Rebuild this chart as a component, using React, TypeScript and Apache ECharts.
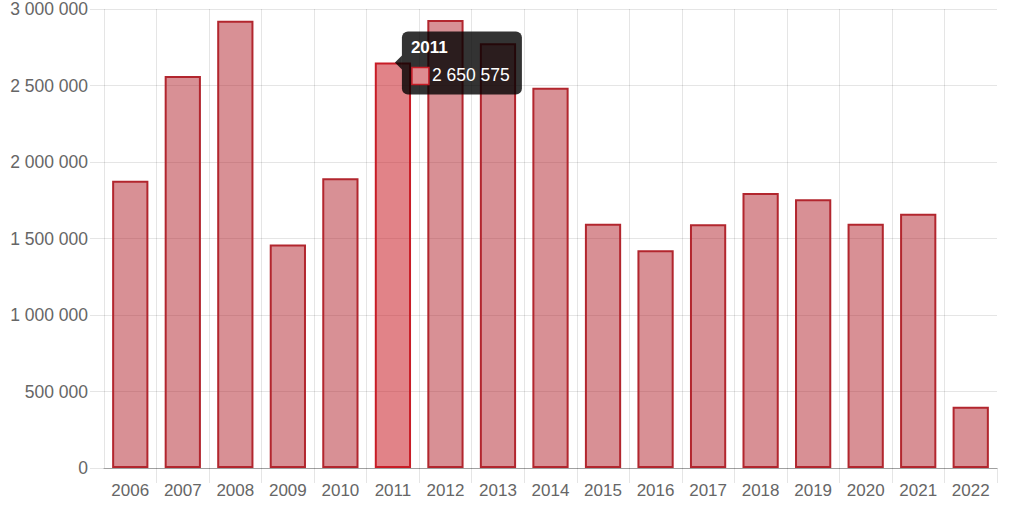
import React, { useEffect, useRef } from "react";
import * as echarts from "echarts";

const years = ["2006", "2007", "2008", "2009", "2010", "2011", "2012", "2013", "2014", "2015", "2016", "2017", "2018", "2019", "2020", "2021", "2022"];
const values = [1878000, 2562000, 2923000, 1460000, 1893000, 2650575, 2928000, 2776000, 2486000, 1597000, 1423000, 1593000, 1797000, 1756000, 1597000, 1662000, 400000];
const yTicks = { min: 0, max: 3000000, interval: 500000 };
const hoveredIndex = 5;

const fmt = (v: number) => String(v).replace(/\B(?=(\d{3})+(?!\d))/g, " ");

const FONT = "'Liberation Sans', Arial, Helvetica, sans-serif";

export default function App() {
  const ref = useRef<HTMLDivElement>(null);
  useEffect(() => {
    document.body.style.margin = "0";
    const chart = echarts.init(ref.current!, undefined, { renderer: "svg" });
    const normal = { color: "rgba(178,34,44,0.5)", borderColor: "rgb(178,38,46)", borderWidth: 2 };
    const hover = { color: "rgba(200,30,38,0.55)", borderColor: "rgb(200,28,38)", borderWidth: 2 };
    chart.setOption({
      animation: false,
      textStyle: { fontFamily: FONT },
      grid: { left: 104, right: 23, top: 9, bottom: 42 },
      xAxis: {
        type: "category",
        data: years,
        boundaryGap: true,
        axisLine: { show: true, lineStyle: { color: "rgba(0,0,0,0.3)", width: 1 } },
        axisTick: { show: true, length: 15, interval: (i: number) => i !== 0, lineStyle: { color: "rgba(0,0,0,0.1)" } },
        axisLabel: { color: "#666", fontSize: 17, margin: 14, fontFamily: FONT },
        splitLine: { show: true, showMinLine: true, showMaxLine: false, lineStyle: { color: "rgba(0,0,0,0.1)" } },
      },
      yAxis: {
        type: "value",
        min: yTicks.min,
        max: yTicks.max,
        interval: yTicks.interval,
        axisLine: { show: false },
        axisTick: { show: true, length: 14, lineStyle: { color: "rgba(0,0,0,0.1)" } },
        axisLabel: { color: "#666", fontSize: 17.5, margin: 16, fontFamily: FONT, formatter: (v: number) => fmt(v) },
        splitLine: { show: true, lineStyle: { color: "rgba(0,0,0,0.1)" } },
      },
      series: [
        {
          type: "bar",
          barCategoryGap: "31%",
          silent: true,
          data: values.map((v, i) => ({ value: v, itemStyle: i === hoveredIndex ? hover : normal })),
          itemStyle: normal,
        },
      ],
    });
    const tip = chart.convertToPixel({ gridIndex: 0 }, [years[hoveredIndex], values[hoveredIndex]]) as number[];
    const Z = 100;
    chart.setOption({
      graphic: [
        {
          type: "group",
          x: tip[0] + 2,
          y: tip[1],
          z: Z,
          children: [
            { type: "polygon", z: Z, shape: { points: [[0, 0], [7, -7], [7, 7]] }, style: { fill: "rgba(0,0,0,0.8)" } },
            { type: "rect", z: Z, shape: { x: 7, y: -31, width: 120, height: 63, r: 6 }, style: { fill: "rgba(0,0,0,0.8)" } },
            { type: "text", z: Z + 1, x: 16, y: -14.5, style: { text: years[hoveredIndex], fill: "#fff", font: `bold 17px ${FONT}`, verticalAlign: "middle", align: "left" } },
            { type: "rect", z: Z + 1, shape: { x: 17, y: 5, width: 17, height: 17 }, style: { fill: "rgba(222,140,144,1)", stroke: "rgb(200,28,38)", lineWidth: 1.5 } },
            { type: "text", z: Z + 1, x: 37, y: 12.5, style: { text: fmt(values[hoveredIndex]), fill: "#fff", font: `17.5px ${FONT}`, verticalAlign: "middle", align: "left" } },
          ],
        },
      ],
    });
    return () => chart.dispose();
  }, []);
  return <div ref={ref} style={{ width: 1020, height: 510 }} />;
}
